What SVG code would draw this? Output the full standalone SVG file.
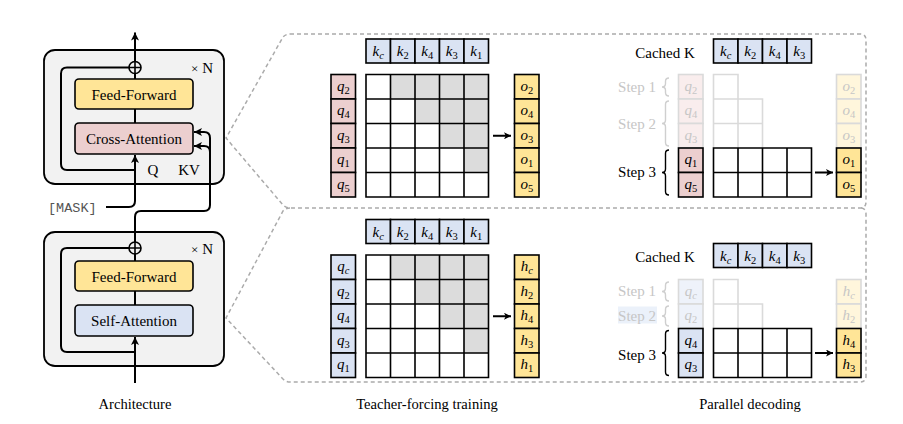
<svg xmlns="http://www.w3.org/2000/svg" width="903" height="424" viewBox="0 0 903 424">
  <defs>
    <style>
      .lbl { font-family: "Liberation Serif", "Times New Roman", serif; font-size: 15px; fill: #000; }
      .cap { font-family: "Liberation Serif", "Times New Roman", serif; font-size: 14.6px; fill: #000; text-anchor: middle; }
      .mono { font-family: "Liberation Mono", "Courier New", monospace; font-size: 13.5px; fill: #555; }
      .block { fill: #f2f2f2; stroke: #000; stroke-width: 1.8; }
      .ff { fill: #ffe597; stroke: #000; stroke-width: 1.6; }
      .ca { fill: #eccfcf; stroke: #000; stroke-width: 1.6; }
      .sa { fill: #dae3f3; stroke: #000; stroke-width: 1.6; }
      .wire { fill: none; stroke: #000; stroke-width: 2; }
      .callout { fill: none; stroke: #ababab; stroke-width: 1.5; stroke-dasharray: 4 3; }
      .cell { stroke: #000; stroke-width: 1.6; }
      .fcell { stroke: #dadada; stroke-width: 1.6; }
      .qr { fill: #eccfcf; }
      .qb { fill: #dae3f3; }
      .kb { fill: #dae3f3; }
      .yo { fill: #ffe597; }
      .fqr { fill: #f9eded; }
      .fqb { fill: #eef2fa; }
      .fyo { fill: #fff6dc; }
      .grid { fill: none; stroke: #000; stroke-width: 1.6; }
      .fgrid { fill: #fff; stroke: #dadada; stroke-width: 1.6; }
      .shade { fill: #dcdcdc; }
      .m { font-family: "Liberation Serif", "Times New Roman", serif; font-style: italic; font-size: 15px; text-anchor: middle; fill: #000; }
      .fm { fill: #c6c6c6; }
      .s { font-size: 10.5px; }
      .u { font-style: normal; }
      .brace { fill: none; stroke: #000; stroke-width: 1.4; }
      .fbrace { fill: none; stroke: #cfcfcf; stroke-width: 1.4; }
      .faded { fill: #c6c6c6; }
    </style>
    <marker id="head" viewBox="0 0 10 10" refX="10" refY="5" markerWidth="9" markerHeight="8" markerUnits="userSpaceOnUse" orient="auto">
      <path d="M0,0 L10,5 L0,10 L2.5,5 Z" fill="#000"/>
    </marker>
    <marker id="headSmall" viewBox="0 0 10 10" refX="10" refY="5" markerWidth="8" markerHeight="7" markerUnits="userSpaceOnUse" orient="auto">
      <path d="M0,0 L10,5 L0,10 L2.5,5 Z" fill="#000"/>
    </marker>
  </defs>

  <rect width="903" height="424" fill="#fff"/>

  <!-- ============ Architecture: cross-attention (upper) block ============ -->
  <g id="decoder-block">
    <rect class="block" x="44" y="50" width="180" height="134" rx="11"/>
    <text class="lbl" x="213" y="73" text-anchor="end"><tspan font-size="13">×</tspan> N</text>
    <g id="feed-forward-top">
      <rect class="ff" x="75" y="79" width="118" height="30" rx="4"/>
      <text class="lbl" x="134" y="99.5" text-anchor="middle">Feed-Forward</text>
    </g>
    <g id="cross-attention">
      <rect class="ca" x="75" y="123" width="118" height="31" rx="4"/>
      <text class="lbl" x="134" y="144" text-anchor="middle">Cross-Attention</text>
    </g>
    <text class="lbl" x="152.8" y="175" text-anchor="middle">Q</text>
    <text class="lbl" x="189" y="175" text-anchor="middle">KV</text>
    <g id="add-top">
      <circle cx="135" cy="67.5" r="6" fill="none" stroke="#000" stroke-width="1.6"/>
      <path d="M129,67.5 H141 M135,61.5 V73.5" stroke="#000" stroke-width="1.6"/>
    </g>
  </g>

  <!-- ============ Architecture: self-attention (lower) block ============ -->
  <g id="encoder-block">
    <rect class="block" x="44" y="232" width="180" height="134" rx="11"/>
    <text class="lbl" x="213" y="254" text-anchor="end"><tspan font-size="13">×</tspan> N</text>
    <g id="feed-forward-bottom">
      <rect class="ff" x="75" y="261" width="118" height="30" rx="4"/>
      <text class="lbl" x="134" y="281.5" text-anchor="middle">Feed-Forward</text>
    </g>
    <g id="self-attention">
      <rect class="sa" x="75" y="305" width="118" height="31" rx="4"/>
      <text class="lbl" x="134" y="326" text-anchor="middle">Self-Attention</text>
    </g>
    <g id="add-bottom">
      <circle cx="135" cy="248" r="6" fill="none" stroke="#000" stroke-width="1.6"/>
      <path d="M129,248 H141 M135,242 V254" stroke="#000" stroke-width="1.6"/>
    </g>
  </g>

  <g id="mask-token">
    <text class="mono" x="48" y="211.5">[MASK]</text>
  </g>

  <text class="cap" x="135" y="409">Architecture</text>

  <!-- ============ Connectors ============ -->
  <g id="connectors">
    <!-- upper block -->
    <path class="wire" d="M135,61.5 V32.5" marker-end="url(#head)"/>
    <path class="wire" d="M135,73.5 V79"/>
    <path class="wire" d="M135,109 V123"/>
    <path class="wire" d="M106,207 H129 Q135,207 135,201 V155" marker-end="url(#head)"/>
    <path class="wire" d="M135,170 H67 Q61,170 61,164 V73.5 Q61,67.5 67,67.5 H129"/>
    <!-- lower block output feeding K/V -->
    <path class="wire" d="M135,242 V217 Q135,211 141,211 H204 Q210,211 210,205 V138 Q210,132 204,132 H194" marker-end="url(#head)"/>
    <path class="wire" d="M210,162 V152 Q210,146 204,146 H194" marker-end="url(#head)"/>
    <!-- lower block -->
    <path class="wire" d="M135,254 V261"/>
    <path class="wire" d="M135,291 V305"/>
    <path class="wire" d="M135,383 V337" marker-end="url(#head)"/>
    <path class="wire" d="M135,352 H67 Q61,352 61,346 V254 Q61,248 67,248 H129"/>

    <!-- zoom-out callouts -->
    <path class="callout" d="M290,34 H860 Q866,34 866,40 V202 Q866,208 860,208 H290 Q286,208 283,205 L226,138 L283,37 Q286,34 290,34 Z"/>
    <path class="callout" d="M290,208 Q286,208 283,211 L226,318 L283,379 Q286,382 290,382 H860 Q866,382 866,376 V214 Q866,208 860,208"/>

    <!-- attention to output arrows -->
    <path class="wire" stroke-width="1.6" d="M493,135.75 H511" marker-end="url(#headSmall)"/>
    <path class="wire" stroke-width="1.6" d="M815,172.5 H833" marker-end="url(#headSmall)"/>
    <path class="wire" stroke-width="1.6" d="M493,316.25 H511" marker-end="url(#headSmall)"/>
    <path class="wire" stroke-width="1.6" d="M815,353 H833" marker-end="url(#headSmall)"/>
  </g>

  <!-- ============ Teacher forcing, cross-attention ============ -->
  <g id="tf-cross">
    <g id="tf-cross-keys">
      <rect class="cell kb" x="366" y="39" width="24.5" height="24"/>
      <rect class="cell kb" x="390.5" y="39" width="24.5" height="24"/>
      <rect class="cell kb" x="415" y="39" width="24.5" height="24"/>
      <rect class="cell kb" x="439.5" y="39" width="24.5" height="24"/>
      <rect class="cell kb" x="464" y="39" width="24.5" height="24"/>
      <text class="m" x="378.25" y="56">k<tspan class="s" dy="3">c</tspan></text>
      <text class="m" x="402.75" y="56">k<tspan class="s u" dy="3">2</tspan></text>
      <text class="m" x="427.25" y="56">k<tspan class="s u" dy="3">4</tspan></text>
      <text class="m" x="451.75" y="56">k<tspan class="s u" dy="3">3</tspan></text>
      <text class="m" x="476.25" y="56">k<tspan class="s u" dy="3">1</tspan></text>
    </g>
    <g id="tf-cross-queries">
      <rect class="cell qr" x="331" y="74.5" width="24.5" height="24.5"/>
      <rect class="cell qr" x="331" y="99" width="24.5" height="24.5"/>
      <rect class="cell qr" x="331" y="123.5" width="24.5" height="24.5"/>
      <rect class="cell qr" x="331" y="148" width="24.5" height="24.5"/>
      <rect class="cell qr" x="331" y="172.5" width="24.5" height="24.5"/>
      <text class="m" x="343.25" y="90.5">q<tspan class="s u" dy="3">2</tspan></text>
      <text class="m" x="343.25" y="115">q<tspan class="s u" dy="3">4</tspan></text>
      <text class="m" x="343.25" y="139.5">q<tspan class="s u" dy="3">3</tspan></text>
      <text class="m" x="343.25" y="164">q<tspan class="s u" dy="3">1</tspan></text>
      <text class="m" x="343.25" y="188.5">q<tspan class="s u" dy="3">5</tspan></text>
    </g>
    <g id="tf-cross-matrix">
      <rect x="366" y="74.5" width="122.5" height="122.5" fill="#fff"/>
      <path class="shade" d="M390.5,74.5 H488.5 V172.5 H464 V148 H439.5 V123.5 H415 V99 H390.5 Z"/>
      <path class="grid" d="M366,74.5 H488.5 V197 H366 Z M390.5,74.5 V197 M415,74.5 V197 M439.5,74.5 V197 M464,74.5 V197 M366,99 H488.5 M366,123.5 H488.5 M366,148 H488.5 M366,172.5 H488.5"/>
    </g>
    <g id="tf-cross-outputs">
      <rect class="cell yo" x="514.5" y="74.5" width="24.5" height="24.5"/>
      <rect class="cell yo" x="514.5" y="99" width="24.5" height="24.5"/>
      <rect class="cell yo" x="514.5" y="123.5" width="24.5" height="24.5"/>
      <rect class="cell yo" x="514.5" y="148" width="24.5" height="24.5"/>
      <rect class="cell yo" x="514.5" y="172.5" width="24.5" height="24.5"/>
      <text class="m" x="526.75" y="90.5">o<tspan class="s u" dy="3">2</tspan></text>
      <text class="m" x="526.75" y="115">o<tspan class="s u" dy="3">4</tspan></text>
      <text class="m" x="526.75" y="139.5">o<tspan class="s u" dy="3">3</tspan></text>
      <text class="m" x="526.75" y="164">o<tspan class="s u" dy="3">1</tspan></text>
      <text class="m" x="526.75" y="188.5">o<tspan class="s u" dy="3">5</tspan></text>
    </g>
  </g>

  <!-- ============ Parallel decoding, cross-attention ============ -->
  <g id="pd-cross">
    <text class="lbl" x="665" y="57.5" text-anchor="middle">Cached K</text>
    <g id="pd-cross-keys">
      <rect class="cell kb" x="713.5" y="39" width="24.5" height="24"/>
      <rect class="cell kb" x="738" y="39" width="24.5" height="24"/>
      <rect class="cell kb" x="762.5" y="39" width="24.5" height="24"/>
      <rect class="cell kb" x="787" y="39" width="24.5" height="24"/>
      <text class="m" x="725.75" y="56">k<tspan class="s" dy="3">c</tspan></text>
      <text class="m" x="750.25" y="56">k<tspan class="s u" dy="3">2</tspan></text>
      <text class="m" x="774.75" y="56">k<tspan class="s u" dy="3">4</tspan></text>
      <text class="m" x="799.25" y="56">k<tspan class="s u" dy="3">3</tspan></text>
    </g>
    <g id="pd-cross-steps">
      <text class="lbl faded" x="656" y="92" text-anchor="end">Step 1</text>
      <path class="fbrace" d="M669,78 Q665.5,78 665.5,81.5 V83.5 Q665.5,87 662,87 Q665.5,87 665.5,90.5 V92.5 Q665.5,96 669,96"/>
      <text class="lbl faded" x="656" y="128.5" text-anchor="end">Step 2</text>
      <path class="fbrace" d="M669,101 Q665.5,101 665.5,104.5 V120 Q665.5,123.5 662,123.5 Q665.5,123.5 665.5,127 V142.5 Q665.5,146 669,146"/>
      <text class="lbl" x="656" y="177" text-anchor="end">Step 3</text>
      <path class="brace" d="M669,150 Q665.5,150 665.5,153.5 V169 Q665.5,172.5 662,172.5 Q665.5,172.5 665.5,176 V191.5 Q665.5,195 669,195"/>
    </g>
    <g id="pd-cross-queries">
      <rect class="fcell fqr" x="678.5" y="74.5" width="24.5" height="24.5"/>
      <rect class="fcell fqr" x="678.5" y="99" width="24.5" height="24.5"/>
      <rect class="fcell fqr" x="678.5" y="123.5" width="24.5" height="24.5"/>
      <rect class="cell qr" x="678.5" y="148" width="24.5" height="24.5"/>
      <rect class="cell qr" x="678.5" y="172.5" width="24.5" height="24.5"/>
      <text class="m fm" x="690.75" y="90.5">q<tspan class="s u" dy="3">2</tspan></text>
      <text class="m fm" x="690.75" y="115">q<tspan class="s u" dy="3">4</tspan></text>
      <text class="m fm" x="690.75" y="139.5">q<tspan class="s u" dy="3">3</tspan></text>
      <text class="m" x="690.75" y="164">q<tspan class="s u" dy="3">1</tspan></text>
      <text class="m" x="690.75" y="188.5">q<tspan class="s u" dy="3">5</tspan></text>
    </g>
    <g id="pd-cross-matrix">
      <path class="fgrid" d="M713.5,148 V74.5 H738 V148 M713.5,99 H762.5 V148 M713.5,123.5 H762.5"/>
      <rect x="713.5" y="148" width="98" height="49" fill="#fff"/>
      <path class="grid" d="M713.5,148 H811.5 V197 H713.5 Z M738,148 V197 M762.5,148 V197 M787,148 V197 M713.5,172.5 H811.5"/>
    </g>
    <g id="pd-cross-outputs">
      <rect class="fcell fyo" x="836.5" y="74.5" width="24.5" height="24.5"/>
      <rect class="fcell fyo" x="836.5" y="99" width="24.5" height="24.5"/>
      <rect class="fcell fyo" x="836.5" y="123.5" width="24.5" height="24.5"/>
      <rect class="cell yo" x="836.5" y="148" width="24.5" height="24.5"/>
      <rect class="cell yo" x="836.5" y="172.5" width="24.5" height="24.5"/>
      <text class="m fm" x="848.75" y="90.5">o<tspan class="s u" dy="3">2</tspan></text>
      <text class="m fm" x="848.75" y="115">o<tspan class="s u" dy="3">4</tspan></text>
      <text class="m fm" x="848.75" y="139.5">o<tspan class="s u" dy="3">3</tspan></text>
      <text class="m" x="848.75" y="164">o<tspan class="s u" dy="3">1</tspan></text>
      <text class="m" x="848.75" y="188.5">o<tspan class="s u" dy="3">5</tspan></text>
    </g>
  </g>

  <!-- ============ Teacher forcing, self-attention ============ -->
  <g id="tf-self">
    <g id="tf-self-keys">
      <rect class="cell kb" x="366" y="219.5" width="24.5" height="24"/>
      <rect class="cell kb" x="390.5" y="219.5" width="24.5" height="24"/>
      <rect class="cell kb" x="415" y="219.5" width="24.5" height="24"/>
      <rect class="cell kb" x="439.5" y="219.5" width="24.5" height="24"/>
      <rect class="cell kb" x="464" y="219.5" width="24.5" height="24"/>
      <text class="m" x="378.25" y="236.5">k<tspan class="s" dy="3">c</tspan></text>
      <text class="m" x="402.75" y="236.5">k<tspan class="s u" dy="3">2</tspan></text>
      <text class="m" x="427.25" y="236.5">k<tspan class="s u" dy="3">4</tspan></text>
      <text class="m" x="451.75" y="236.5">k<tspan class="s u" dy="3">3</tspan></text>
      <text class="m" x="476.25" y="236.5">k<tspan class="s u" dy="3">1</tspan></text>
    </g>
    <g id="tf-self-queries">
      <rect class="cell qb" x="331" y="255" width="24.5" height="24.5"/>
      <rect class="cell qb" x="331" y="279.5" width="24.5" height="24.5"/>
      <rect class="cell qb" x="331" y="304" width="24.5" height="24.5"/>
      <rect class="cell qb" x="331" y="328.5" width="24.5" height="24.5"/>
      <rect class="cell qb" x="331" y="353" width="24.5" height="24.5"/>
      <text class="m" x="343.25" y="271">q<tspan class="s" dy="3">c</tspan></text>
      <text class="m" x="343.25" y="295.5">q<tspan class="s u" dy="3">2</tspan></text>
      <text class="m" x="343.25" y="320">q<tspan class="s u" dy="3">4</tspan></text>
      <text class="m" x="343.25" y="344.5">q<tspan class="s u" dy="3">3</tspan></text>
      <text class="m" x="343.25" y="369">q<tspan class="s u" dy="3">1</tspan></text>
    </g>
    <g id="tf-self-matrix">
      <rect x="366" y="255" width="122.5" height="122.5" fill="#fff"/>
      <path class="shade" d="M390.5,255 H488.5 V353 H464 V328.5 H439.5 V304 H415 V279.5 H390.5 Z"/>
      <path class="grid" d="M366,255 H488.5 V377.5 H366 Z M390.5,255 V377.5 M415,255 V377.5 M439.5,255 V377.5 M464,255 V377.5 M366,279.5 H488.5 M366,304 H488.5 M366,328.5 H488.5 M366,353 H488.5"/>
    </g>
    <g id="tf-self-outputs">
      <rect class="cell yo" x="514.5" y="255" width="24.5" height="24.5"/>
      <rect class="cell yo" x="514.5" y="279.5" width="24.5" height="24.5"/>
      <rect class="cell yo" x="514.5" y="304" width="24.5" height="24.5"/>
      <rect class="cell yo" x="514.5" y="328.5" width="24.5" height="24.5"/>
      <rect class="cell yo" x="514.5" y="353" width="24.5" height="24.5"/>
      <text class="m" x="526.75" y="271">h<tspan class="s" dy="3">c</tspan></text>
      <text class="m" x="526.75" y="295.5">h<tspan class="s u" dy="3">2</tspan></text>
      <text class="m" x="526.75" y="320">h<tspan class="s u" dy="3">4</tspan></text>
      <text class="m" x="526.75" y="344.5">h<tspan class="s u" dy="3">3</tspan></text>
      <text class="m" x="526.75" y="369">h<tspan class="s u" dy="3">1</tspan></text>
    </g>
  </g>

  <!-- ============ Parallel decoding, self-attention ============ -->
  <g id="pd-self">
    <text class="lbl" x="665" y="261.5" text-anchor="middle">Cached K</text>
    <g id="pd-self-keys">
      <rect class="cell kb" x="713.5" y="243.5" width="24.5" height="24"/>
      <rect class="cell kb" x="738" y="243.5" width="24.5" height="24"/>
      <rect class="cell kb" x="762.5" y="243.5" width="24.5" height="24"/>
      <rect class="cell kb" x="787" y="243.5" width="24.5" height="24"/>
      <text class="m" x="725.75" y="260.5">k<tspan class="s" dy="3">c</tspan></text>
      <text class="m" x="750.25" y="260.5">k<tspan class="s u" dy="3">2</tspan></text>
      <text class="m" x="774.75" y="260.5">k<tspan class="s u" dy="3">4</tspan></text>
      <text class="m" x="799.25" y="260.5">k<tspan class="s u" dy="3">3</tspan></text>
    </g>
    <g id="pd-self-steps">
      <text class="lbl faded" x="656" y="296" text-anchor="end">Step 1</text>
      <path class="fbrace" d="M669,282 Q665.5,282 665.5,285.5 V288 Q665.5,291.5 662,291.5 Q665.5,291.5 665.5,295 V297.5 Q665.5,301 669,301"/>
      <rect x="618" y="306.5" width="39" height="17" fill="#ebf1fa"/>
      <text class="lbl faded" x="656" y="320.5" text-anchor="end">Step 2</text>
      <path class="fbrace" d="M669,306 Q665.5,306 665.5,309.5 V312.5 Q665.5,316 662,316 Q665.5,316 665.5,319.5 V322.5 Q665.5,326 669,326"/>
      <text class="lbl" x="656" y="360" text-anchor="end">Step 3</text>
      <path class="brace" d="M669,330.5 Q665.5,330.5 665.5,334 V349.5 Q665.5,353 662,353 Q665.5,353 665.5,356.5 V372 Q665.5,375.5 669,375.5"/>
    </g>
    <g id="pd-self-queries">
      <rect class="fcell fqb" x="678.5" y="279.5" width="24.5" height="24.5"/>
      <rect class="fcell fqb" x="678.5" y="304" width="24.5" height="24.5"/>
      <rect class="cell qb" x="678.5" y="328.5" width="24.5" height="24.5"/>
      <rect class="cell qb" x="678.5" y="353" width="24.5" height="24.5"/>
      <text class="m fm" x="690.75" y="295.5">q<tspan class="s" dy="3">c</tspan></text>
      <text class="m fm" x="690.75" y="320">q<tspan class="s u" dy="3">2</tspan></text>
      <text class="m" x="690.75" y="344.5">q<tspan class="s u" dy="3">4</tspan></text>
      <text class="m" x="690.75" y="369">q<tspan class="s u" dy="3">3</tspan></text>
    </g>
    <g id="pd-self-matrix">
      <path class="fgrid" d="M713.5,328.5 V279.5 H738 V328.5 M713.5,304 H762.5 V328.5"/>
      <rect x="713.5" y="328.5" width="98" height="49" fill="#fff"/>
      <path class="grid" d="M713.5,328.5 H811.5 V377.5 H713.5 Z M738,328.5 V377.5 M762.5,328.5 V377.5 M787,328.5 V377.5 M713.5,353 H811.5"/>
    </g>
    <g id="pd-self-outputs">
      <rect class="fcell fyo" x="836.5" y="279.5" width="24.5" height="24.5"/>
      <rect class="fcell fyo" x="836.5" y="304" width="24.5" height="24.5"/>
      <rect class="cell yo" x="836.5" y="328.5" width="24.5" height="24.5"/>
      <rect class="cell yo" x="836.5" y="353" width="24.5" height="24.5"/>
      <text class="m fm" x="848.75" y="295.5">h<tspan class="s" dy="3">c</tspan></text>
      <text class="m fm" x="848.75" y="320">h<tspan class="s u" dy="3">2</tspan></text>
      <text class="m" x="848.75" y="344.5">h<tspan class="s u" dy="3">4</tspan></text>
      <text class="m" x="848.75" y="369">h<tspan class="s u" dy="3">3</tspan></text>
    </g>
  </g>

  <text class="cap" x="427" y="408.5">Teacher-forcing training</text>
  <text class="cap" x="750" y="408.5">Parallel decoding</text>
</svg>
